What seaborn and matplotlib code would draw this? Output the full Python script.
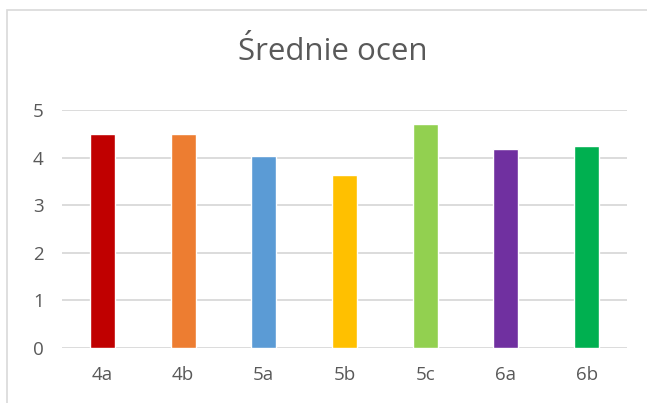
import matplotlib
matplotlib.use("Agg")
import matplotlib.pyplot as plt
import seaborn as sns
import pandas as pd
from matplotlib.patches import Rectangle

classes = ["4a", "4b", "5a", "5b", "5c", "6a", "6b"]
averages = [4.5, 4.5, 4.04, 3.64, 4.71, 4.18, 4.25]
bar_colors = ["#C00000", "#ED7D31", "#5B9BD5", "#FFC000", "#92D050", "#7030A0", "#00B050"]
y_ticks = [0, 1, 2, 3, 4, 5]
title = "Średnie ocen"

sns.set_style("white")
plt.rcParams['font.family'] = ['Open Sans', 'DejaVu Sans']

df = pd.DataFrame({"klasa": classes, "srednia": averages})

fig = plt.figure(figsize=(6.47, 4.03), dpi=100)
ax = fig.add_axes([62 / 647, 1 - 348 / 403, 565 / 647, 238 / 403])

sns.barplot(data=df, x="klasa", y="srednia", hue="klasa", palette=bar_colors,
            width=0.31, legend=False, saturation=1, ax=ax, zorder=3)

ax.set_ylim(0, 5)
ax.set_yticks(y_ticks)
ax.yaxis.grid(True, color="#D9D9D9", linewidth=1.3, zorder=0)
ax.set_axisbelow(True)
ax.set_xlabel("")
ax.set_ylabel("")
for s in ax.spines.values():
    s.set_visible(False)
ax.tick_params(axis="both", length=0, labelsize=13.5, colors="#595959")
ax.tick_params(axis="x", pad=13)
ax.tick_params(axis="y", pad=21)
for lbl in ax.get_yticklabels():
    lbl.set_horizontalalignment("left")

fig.text(333 / 647, 1 - 52 / 403, title, ha="center", va="center",
         fontsize=22.5, color="#595959")

# chart border (only left and top visible in the crop)
fig.patches.append(Rectangle((7 / 647, -0.1), 1.2, 1 - 10 / 403 + 0.1,
                             transform=fig.transFigure, fill=False,
                             edgecolor="#D9D9D9", linewidth=1.2))

fig.savefig("out.png", dpi=100)
